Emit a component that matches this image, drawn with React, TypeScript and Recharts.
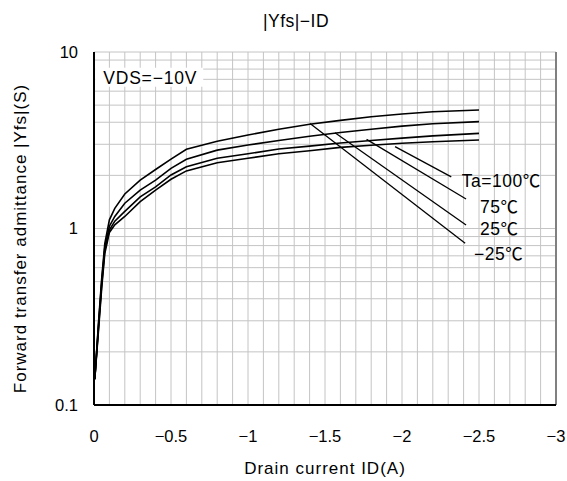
import React from "react";
import {
  LineChart,
  Line,
  XAxis,
  YAxis,
  ReferenceLine,
  ReferenceDot,
  Label,
} from "recharts";

// Drain current ID (A)
const currentA = [-0.005, -0.03, -0.05, -0.07, -0.1, -0.135, -0.2, -0.3, -0.4, -0.5, -0.6, -0.8, -1.0, -1.2, -1.4, -1.6, -1.8, -2.0, -2.2, -2.5];
// |Yfs| (S) per ambient temperature
const yfsM25 = [0.14, 0.3, 0.52, 0.82, 1.12, 1.3, 1.57, 1.88, 2.16, 2.47, 2.81, 3.12, 3.39, 3.65, 3.9, 4.1, 4.3, 4.45, 4.59, 4.69];
const yfs25 = [0.14, 0.29, 0.5, 0.78, 1.03, 1.17, 1.39, 1.65, 1.88, 2.19, 2.47, 2.78, 2.97, 3.15, 3.33, 3.5, 3.65, 3.8, 3.92, 4.03];
const yfs75 = [0.14, 0.28, 0.48, 0.75, 0.98, 1.1, 1.25, 1.51, 1.72, 2.01, 2.24, 2.5, 2.65, 2.82, 2.93, 3.05, 3.15, 3.25, 3.35, 3.46];
const yfs100 = [0.14, 0.27, 0.46, 0.72, 0.95, 1.05, 1.17, 1.42, 1.65, 1.9, 2.12, 2.36, 2.5, 2.65, 2.76, 2.88, 2.96, 3.04, 3.1, 3.17];

const xTicks = [0, -0.5, -1, -1.5, -2, -2.5, -3];
const yTicks = [0.1, 1, 10];
const xGrid = Array.from({ length: 29 }, (_, i) => -(i + 1) / 10);
const yGrid = [0.2, 0.3, 0.4, 0.5, 0.6, 0.7, 0.8, 0.9, 1, 2, 3, 4, 5, 6, 7, 8, 9, 10];

// temperature annotations with leader lines
const tempLabels = ["Ta=100℃", "75℃", "25℃", "−25℃"];
const leaderStartX = [-1.955, -1.77, -1.565, -1.403];
const leaderStartY = [2.91, 3.2, 3.49, 3.94];
const leaderEndX = [-2.32, -2.416, -2.416, -2.41];
const leaderEndY = [1.96, 1.47, 1.047, 0.824];
const labelX = [-2.388, -2.506, -2.506, -2.468];
const labelY = [1.866, 1.329, 0.994, 0.717];

const conditionText = "VDS=−10V";

const data = currentA.map((x, i) => ({
  x,
  m25: yfsM25[i],
  t25: yfs25[i],
  t75: yfs75[i],
  t100: yfs100[i],
}));

const FONT = "'Liberation Sans', Arial, 'Noto Sans CJK JP', sans-serif";

const fmtX = (v: number) => (v === 0 ? "0" : "−" + String(Math.abs(v)));

const YLabel = (props: any) => {
  const vb = props.viewBox || { x: 0, y: 52, width: 94, height: 353 };
  const cx = vb.x + 20;
  const cy = vb.y + vb.height / 2 + 10;
  return (
    <text
      x={cx}
      y={cy}
      transform={`rotate(-90, ${cx}, ${cy})`}
      textAnchor="middle"
      dominantBaseline="central"
      fontSize={17}
      letterSpacing={1}
      fontFamily={FONT}
      fill="#000"
    >
      Forward transfer admittance |Yfs|(S)
    </text>
  );
};

export default function App() {
  return (
    <div style={{ position: "absolute", left: 0, top: 0, width: 567, height: 481, background: "#fff", fontFamily: FONT }}>
      <div
        style={{
          position: "absolute",
          left: 196,
          width: 200,
          top: 11,
          textAlign: "center",
          fontSize: 17.5,
          letterSpacing: 0.5,
          color: "#000",
          fontFamily: FONT,
        }}
      >
        |Yfs|−ID
      </div>
      <LineChart
        width={567}
        height={481}
        data={data}
        margin={{ top: 52, right: 11, bottom: 46, left: 0 }}
      >
        {xGrid.map((v) => (
          <ReferenceLine key={"gx" + v} x={v} stroke="#c4c4c4" strokeWidth={1} />
        ))}
        {yGrid.map((v) => (
          <ReferenceLine key={"gy" + v} y={v} stroke="#c4c4c4" strokeWidth={1} />
        ))}
        <XAxis
          dataKey="x"
          type="number"
          domain={[-3, 0]}
          reversed
          ticks={xTicks}
          tickFormatter={fmtX}
          tickSize={0}
          tickMargin={25}
          height={30}
          axisLine={{ stroke: "#000", strokeWidth: 2 }}
          tick={{ fill: "#000", fontSize: 16.5, fontFamily: FONT }}
          allowDataOverflow
        >
          <Label
            value="Drain current ID(A)"
            position="bottom"
            offset={27}
            style={{ fill: "#000", fontSize: 17, fontFamily: FONT, letterSpacing: 1 }}
          />
        </XAxis>
        <YAxis
          type="number"
          scale="log"
          domain={[0.1, 10]}
          ticks={yTicks}
          tickFormatter={(v: number) => String(v)}
          tickSize={0}
          tickMargin={16}
          width={94}
          axisLine={{ stroke: "#000", strokeWidth: 2 }}
          tick={{ fill: "#000", fontSize: 16.5, fontFamily: FONT }}
          allowDataOverflow
        >
          <Label content={<YLabel />} />
        </YAxis>
        <ReferenceLine x={-3} stroke="#808080" strokeWidth={2} ifOverflow="visible" />
        <ReferenceDot
          x={-0.06}
          y={7.15}
          ifOverflow="visible"
          shape={(p: any) => (
            <g>
              <rect x={p.cx - 8} y={p.cy - 10} width={108} height={19} fill="#fff" />
              <text x={p.cx} y={p.cy} dy="0.36em" fontSize={17.5} letterSpacing={0.8} fontFamily={FONT} fill="#000">
                {conditionText}
              </text>
            </g>
          )}
        />
        {tempLabels.map((t, i) => (
          <ReferenceLine
            key={"l" + i}
            segment={[
              { x: leaderStartX[i], y: leaderStartY[i] },
              { x: leaderEndX[i], y: leaderEndY[i] },
            ]}
            stroke="#000"
            strokeWidth={1.3}
            ifOverflow="visible"
          />
        ))}
        {tempLabels.map((t, i) => (
          <ReferenceDot
            key={"t" + i}
            x={labelX[i]}
            y={labelY[i]}
            ifOverflow="visible"
            shape={(p: any) => (
              <text x={p.cx} y={p.cy} dy="0.36em" fontSize={17.5} letterSpacing={0.5} fontFamily={FONT} fill="#000">
                {t}
              </text>
            )}
          />
        ))}
        <Line type="linear" dataKey="m25" stroke="#000" strokeWidth={1.6} dot={false} isAnimationActive={false} />
        <Line type="linear" dataKey="t25" stroke="#000" strokeWidth={1.6} dot={false} isAnimationActive={false} />
        <Line type="linear" dataKey="t75" stroke="#000" strokeWidth={1.6} dot={false} isAnimationActive={false} />
        <Line type="linear" dataKey="t100" stroke="#000" strokeWidth={1.6} dot={false} isAnimationActive={false} />
      </LineChart>
    </div>
  );
}
